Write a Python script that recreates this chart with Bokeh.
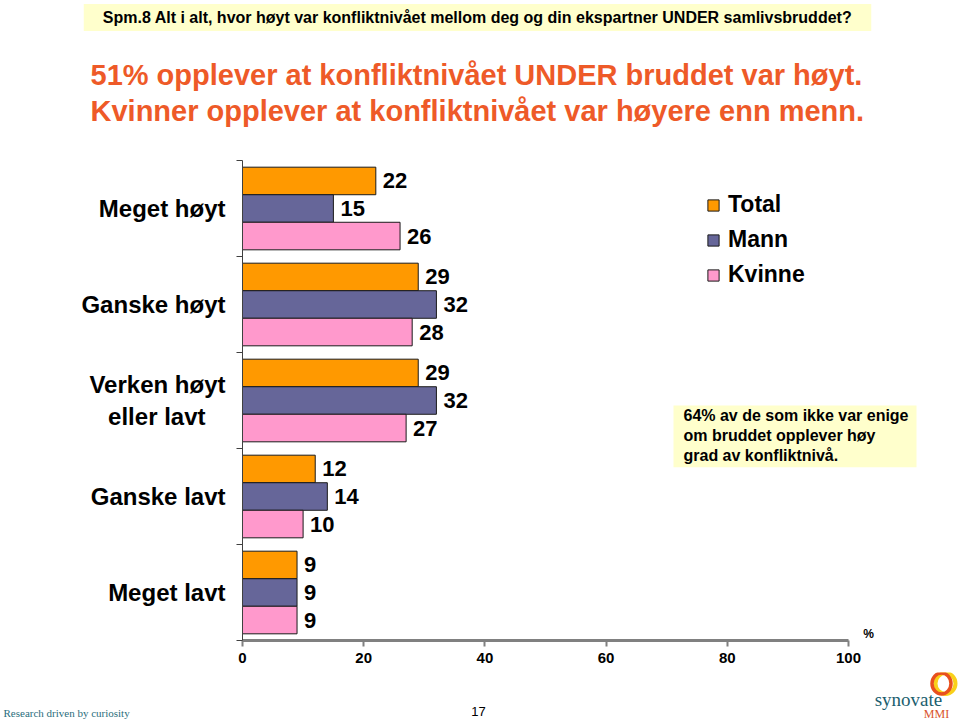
from bokeh.plotting import figure
from bokeh.layouts import column
from bokeh.models import (Range1d, FixedTicker, Label, Legend, LegendItem,
                          ColumnDataSource)
from bokeh.core.properties import value
from bokeh.transform import dodge
from bokeh.embed import file_html
from bokeh.resources import INLINE

# ---------------- data ----------------
categories = ["Meget høyt", "Ganske høyt", "Verken høyt\neller lavt\u00a0\u00a0\u00a0", "Ganske lavt", "Meget lavt"]
series = ["Total", "Mann", "Kvinne"]
total = [22, 29, 29, 12, 9]
mann = [15, 32, 32, 14, 9]
kvinne = [26, 28, 27, 10, 9]
x_ticks = [0, 20, 40, 60, 80, 100]

title_text = "Spm.8 Alt i alt, hvor høyt var konfliktnivået mellom deg og din ekspartner UNDER samlivsbruddet?"
sub1 = "51% opplever at konfliktnivået UNDER bruddet var høyt."
sub2 = "Kvinner opplever at konfliktnivået var høyere enn menn."
note_text = "64% av de som ikke var enige\nom bruddet opplever høy\ngrad av konfliktnivå."

colors = ["#FF9900", "#666699", "#FF99CC"]
SANS = "Liberation Sans"
NARROW = "'Liberation Sans Narrow', 'Liberation Sans', sans-serif"

# ---------------- layout helpers (reference pixels -> data of chart) ----------------
X0, PX = 242.0, 6.06   # x pixel of value 0, pixels per percent
Y0, PY = 640.0, 96.0   # y pixel of the value axis, pixels per category


def X(px):
    return (px - X0) / PX


def Y(py):
    return (Y0 - py) / PY


def plain_fig(w, h, y_top, y_bottom):
    f = figure(width=w, height=h, x_range=Range1d(0, w), y_range=Range1d(y_bottom, y_top),
               output_backend="svg", toolbar_location=None,
               x_axis_location=None, y_axis_location=None, min_border=0,
               frame_align=False)
    f.outline_line_color = None
    f.grid.visible = False
    return f


def lab(fig, text, x, y, size, color="black", style="normal", font=SANS,
        align="left", baseline="middle", **kw):
    fig.add_layout(Label(x=x, y=y, text=text, text_font=font, text_font_size=size,
                         text_font_style=style, text_color=color, text_align=align,
                         text_baseline=baseline, **kw))


# ---------------- top: headings ----------------
top = plain_fig(960, 160, 0, 160)
lab(top, title_text, 477, 17, "16px", style="bold", align="center",
    background_fill_color="#FFFFCC", padding=dict(left=19, right=19, top=5, bottom=5))
lab(top, sub1, 90, 74, "29px", color="#EE5A28", style="bold")
lab(top, sub2, 90, 110, "29px", color="#EE5A28", style="bold")

# ---------------- middle: chart ----------------
n = len(categories)
pos = [n - i - 0.5 for i in range(n)]
source = ColumnDataSource(dict(
    pos=pos,
    total=total, mann=mann, kvinne=kvinne,
    total_lbl=[str(v) for v in total],
    mann_lbl=[str(v) for v in mann],
    kvinne_lbl=[str(v) for v in kvinne],
))

p = figure(width=960, height=512,
           x_range=Range1d(0, X(960)), y_range=Range1d(0, Y(160)),
           output_backend="svg", toolbar_location=None,
           min_border_left=242, min_border_right=0,
           min_border_top=0, min_border_bottom=32, frame_align=False)
p.outline_line_color = None
p.xgrid.visible = False
p.ygrid.visible = False

BH = 0.287
offsets = [BH, 0.0, -BH]
fields = ["total", "mann", "kvinne"]
renderers = []
for f, off, c in zip(fields, offsets, colors):
    r = p.hbar(y=dodge("pos", off), left=0, right=f, height=BH, source=source,
               fill_color=c, line_color="#1a1a1a", line_width=1)
    renderers.append(r)
    p.text(x=f, y=dodge("pos", off), text=f + "_lbl", source=source,
           x_offset=7, text_baseline="middle", text_align="left",
           text_font=value(SANS), text_font_style="bold",
           text_font_size="22px", text_color="black")

xa = p.xaxis[0]
xa.ticker = FixedTicker(ticks=x_ticks, minor_ticks=[])
xa.bounds = (0, 100)
xa.axis_line_color = "#808080"
xa.axis_line_width = 3
xa.major_tick_line_color = "#808080"
xa.major_tick_line_width = 2
xa.major_tick_out = 6
xa.major_tick_in = 0
xa.minor_tick_line_color = None
xa.major_label_standoff = 6
xa.major_label_text_font = NARROW
xa.major_label_text_font_style = "bold"
xa.major_label_text_font_size = "15px"
xa.major_label_text_color = "black"

ya = p.yaxis[0]
ya.ticker = FixedTicker(ticks=pos, minor_ticks=[0, 1, 2, 3, 4, 5])
ya.bounds = (0, 5)
ya.axis_line_color = "#404040"
ya.axis_line_width = 1
ya.major_tick_line_color = None
ya.major_tick_out = 0
ya.major_tick_in = 0
ya.minor_tick_line_color = "#404040"
ya.minor_tick_out = 6
ya.minor_tick_in = 0
ya.major_label_standoff = 11
ya.major_label_overrides = {float(pv): c for pv, c in zip(pos, categories)}
ya.major_label_text_font = SANS
ya.major_label_text_font_style = "bold"
ya.major_label_text_font_size = "24px"
ya.major_label_text_color = "black"

legend = Legend(items=[LegendItem(label=s, renderers=[r]) for s, r in zip(series, renderers)],
                location=(464, 352), orientation="vertical",
                glyph_width=14, glyph_height=14, label_standoff=8, spacing=8,
                padding=0, margin=0, border_line_color=None, background_fill_alpha=0,
                label_text_font=SANS, label_text_font_style="bold",
                label_text_font_size="23px", label_text_color="black")
p.add_layout(legend)

lab(p, note_text, X(673), Y(405), "16px", style="bold", baseline="top",
    background_fill_color="#FFFFCC", padding=dict(left=10, right=8, top=1, bottom=3))
lab(p, "%", X(868), Y(640), "12px", style="bold", align="center", baseline="bottom")

# ---------------- bottom: footer ----------------
bot = plain_fig(960, 48, 672, 720)
bot.ellipse(x=[945], y=[683], width=[20], height=[21], width_units="screen",
            height_units="screen", fill_color=None, line_color="#F9D01A", line_width=4)
bot.ellipse(x=[941], y=[683], width=[19], height=[21], width_units="screen",
            height_units="screen", fill_color=None, line_color="#E8501E", line_width=3.5)
lab(bot, "synovate", 908, 699, "19px", color="#1B5E6E", font="Liberation Serif", align="center")
lab(bot, "MMI", 936, 713, "12px", color="#D9542B", font="Liberation Serif", align="center")
lab(bot, "Research driven by curiosity", 3, 712, "11px", color="#2B6E7C", font="Liberation Serif")
lab(bot, "17", 478, 711, "13px", align="center", font=NARROW)

layout = column(top, p, bot, spacing=0)
open("out.html", "w").write(file_html(layout, INLINE))
